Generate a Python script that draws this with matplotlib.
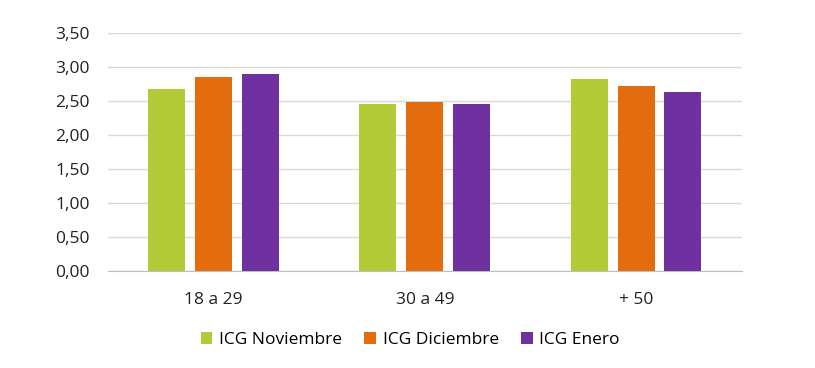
import numpy as np
import matplotlib
matplotlib.use("Agg")
import matplotlib.pyplot as plt
from matplotlib.ticker import FuncFormatter

plt.rcParams['font.family'] = ['Open Sans', 'DejaVu Sans']

categories = ['18 a 29', '30 a 49', '+ 50']
series_names = ['ICG Noviembre', 'ICG Diciembre', 'ICG Enero']
noviembre = [2.68, 2.45, 2.83]
diciembre = [2.85, 2.49, 2.72]
enero = [2.90, 2.46, 2.64]
colors = ['#B3CB36', '#E46C0C', '#7031A0']

fig = plt.figure(figsize=(8.15, 3.68), dpi=100)
ax = fig.add_axes([0.1325, 0.2636, 0.7775, 0.6466])

x = np.arange(len(categories))
w = 0.175
step = 0.222
for i, (vals, name) in enumerate(zip([noviembre, diciembre, enero], series_names)):
    ax.bar(x + (i - 1) * step, vals, width=w, color=colors[i], label=name, zorder=3)

ax.set_xlim(-0.5, 2.5)
ax.set_ylim(0, 3.5)
ax.set_yticks(np.arange(0, 3.51, 0.5))
ax.yaxis.set_major_formatter(FuncFormatter(lambda v, p: f'{v:.2f}'.replace('.', ',')))
ax.set_xticks(x)
ax.set_xticklabels(categories)
ax.grid(axis='y', color='#D9D9D9', linewidth=1, zorder=0)
for s in ['top', 'right', 'left']:
    ax.spines[s].set_visible(False)
ax.spines['bottom'].set_color('#BFBFBF')
ax.tick_params(axis='both', length=0, labelsize=12.5, colors='#222222')
ax.tick_params(axis='y', pad=13)
ax.tick_params(axis='x', pad=15)

ax.legend(loc='upper center', bbox_to_anchor=(0.477, -0.19), ncol=3, frameon=False,
          fontsize=12.5, handlelength=0.65, handleheight=0.65, columnspacing=1.3,
          handletextpad=0.4)

fig.savefig('out.png', dpi=100)
